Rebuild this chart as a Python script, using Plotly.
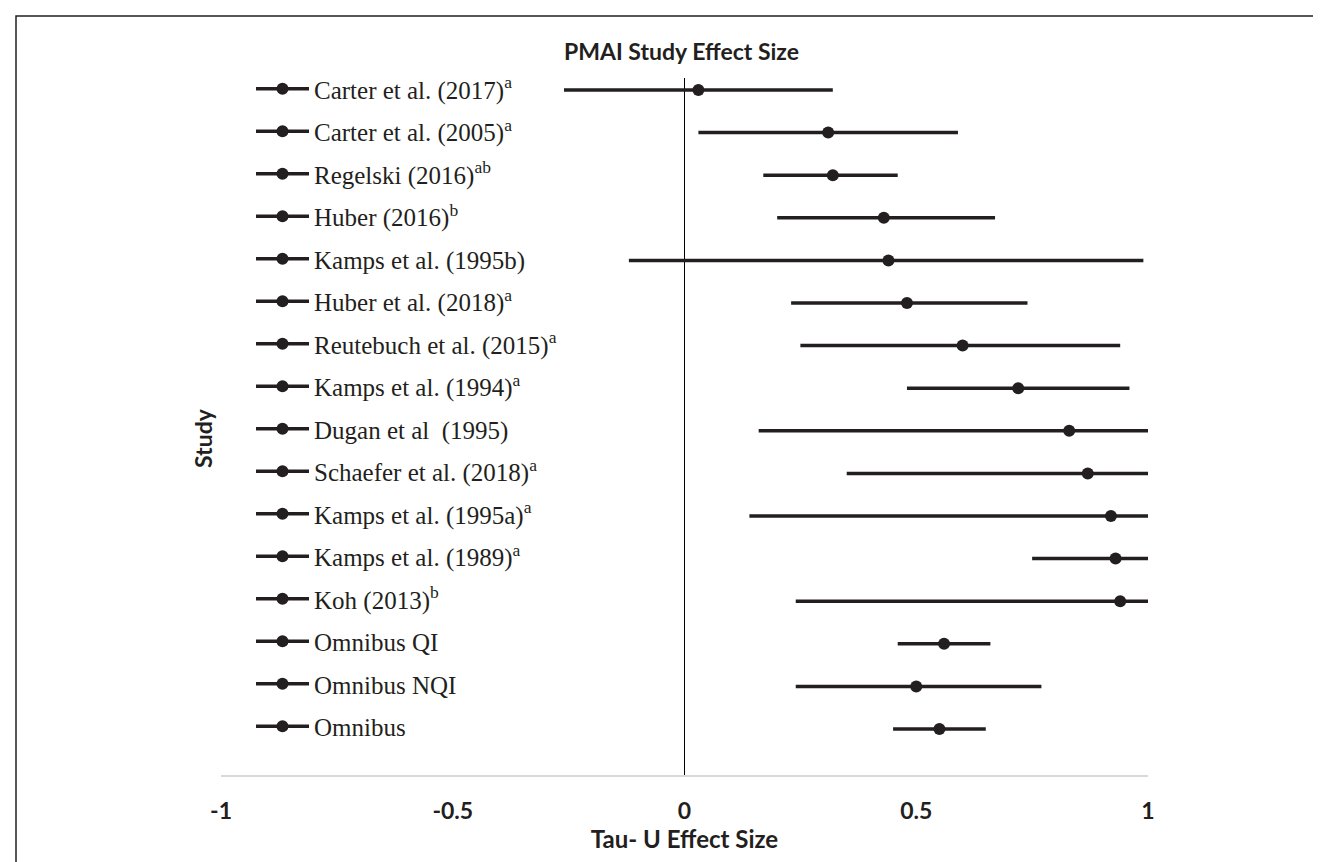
import plotly.graph_objects as go

studies = [
    "Carter et al. (2017)<sup>a</sup>",
    "Carter et al. (2005)<sup>a</sup>",
    "Regelski (2016)<sup>ab</sup>",
    "Huber (2016)<sup>b</sup>",
    "Kamps et al. (1995b)",
    "Huber et al. (2018)<sup>a</sup>",
    "Reutebuch et al. (2015)<sup>a</sup>",
    "Kamps et al. (1994)<sup>a</sup>",
    "Dugan et al  (1995)",
    "Schaefer et al. (2018)<sup>a</sup>",
    "Kamps et al. (1995a)<sup>a</sup>",
    "Kamps et al. (1989)<sup>a</sup>",
    "Koh (2013)<sup>b</sup>",
    "Omnibus QI",
    "Omnibus NQI",
    "Omnibus",
]
effect = [0.03, 0.31, 0.32, 0.43, 0.44, 0.48, 0.60, 0.72, 0.83, 0.87, 0.92, 0.93, 0.94, 0.56, 0.50, 0.55]
ci_low = [-0.26, 0.03, 0.17, 0.20, -0.12, 0.23, 0.25, 0.48, 0.16, 0.35, 0.14, 0.75, 0.24, 0.46, 0.24, 0.45]
ci_high = [0.32, 0.59, 0.46, 0.67, 0.99, 0.74, 0.94, 0.96, 1.00, 1.00, 1.00, 1.00, 1.00, 0.66, 0.77, 0.65]
x_ticks = [-1, -0.5, 0, 0.5, 1]
x_tick_labels = ["-1", "-0.5", "0", "0.5", "1"]

INK = "#231f20"
fig = go.Figure()
for i, name in enumerate(studies):
    fig.add_trace(go.Scatter(
        x=[ci_low[i], ci_high[i]], y=[i, i], mode="lines",
        line=dict(color=INK, width=3.5), showlegend=False,
        legendgroup=str(i), hoverinfo="skip", cliponaxis=False))
    fig.add_trace(go.Scatter(
        x=[effect[i]], y=[i], mode="lines+markers", name=name,
        line=dict(color=INK, width=3.5),
        marker=dict(color=INK, size=12),
        legendgroup=str(i), cliponaxis=False))

# plot area in pixels
W, H = 1321, 862
L, R, T, B = 213, 1140, 70, 767
ROW0, STEP = 82, 42.6
pw, ph = R - L, B - T
def px(xp):
    return (xp - L) / pw
def py(yp):
    return (B - yp) / ph

fig.update_layout(
    width=W, height=H,
    margin=dict(l=L, r=W - R, t=T, b=H - B),
    paper_bgcolor="white", plot_bgcolor="white",
    showlegend=True,
    legend=dict(
        x=px(243), y=py(58), xanchor="left", yanchor="top",
        bgcolor="rgba(0,0,0,0)", borderwidth=0,
        font=dict(family="Liberation Serif", size=25, color=INK),
        traceorder="grouped", tracegroupgap=7, itemwidth=53,
        maxheight=900,
    ),
    xaxis=dict(
        range=[-1, 1], tickmode="array", tickvals=x_ticks, ticktext=x_tick_labels,
        showgrid=False, zeroline=True, zerolinecolor="#000000", zerolinewidth=1,
        showline=True, linecolor="#d9d9d9", linewidth=2, ticks="",
        tickfont=dict(family="Lato", size=23, color=INK, weight="bold"),
        ticklabelstandoff=14,
        title=dict(text="<b>Tau- U Effect Size</b>",
                   font=dict(family="Lato", size=24, color=INK), standoff=4),
    ),
    yaxis=dict(
        range=[15 + (B - (ROW0 + 15 * STEP)) / STEP, -(ROW0 - T) / STEP],
        showticklabels=False, showgrid=False, zeroline=False, showline=False,
    ),
    annotations=[
        dict(text="<b>PMAI Study Effect Size</b>", x=px(673), y=py(43),
             xref="paper", yref="paper", showarrow=False, yanchor="middle",
             font=dict(family="Lato", size=23, color=INK)),
        dict(text="<b>Study</b>", x=px(195), y=py(430), textangle=-90,
             xref="paper", yref="paper", showarrow=False,
             xanchor="center", yanchor="middle",
             font=dict(family="Lato", size=23, color=INK)),
    ],
    shapes=[
        dict(type="rect", xref="paper", yref="paper",
             x0=px(8), x1=px(1320), y0=py(866), y1=py(8),
             line=dict(color="#231f20", width=1.5)),
    ],
)
fig.write_html("out.html")
